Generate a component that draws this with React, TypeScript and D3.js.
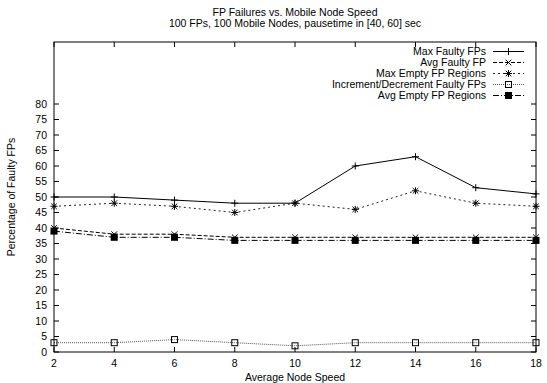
import React from "react";
import * as d3 from "d3";

// data
const speeds = [2, 4, 6, 8, 10, 12, 14, 16, 18];
const maxFaulty = [50, 50, 49, 48, 48, 60, 63, 53, 51];
const avgFaulty = [40, 38, 38, 37, 37, 37, 37, 37, 37];
const maxEmpty = [47, 48, 47, 45, 48, 46, 52, 48, 47];
const incDec = [3, 3, 4, 3, 2, 3, 3, 3, 3];
const avgEmpty = [39, 37, 37, 36, 36, 36, 36, 36, 36];
const yTicks = d3.range(0, 81, 5);
const xTicks = speeds;

const series = [
  { name: "Max Faulty FPs", values: maxFaulty, dash: "none", stroke: "#000", marker: "plus" },
  { name: "Avg Faulty FP", values: avgFaulty, dash: "4,2", stroke: "#000", marker: "cross" },
  { name: "Max Empty FP Regions", values: maxEmpty, dash: "2,3", stroke: "#222", marker: "star" },
  { name: "Increment/Decrement Faulty FPs", values: incDec, dash: "1,1", stroke: "#555", marker: "box" },
  { name: "Avg Empty FP Regions", values: avgEmpty, dash: "6,2,1,2", stroke: "#000", marker: "fbox" },
];

const W = 547,
  H = 383;
const margin = { top: 42, right: 11, bottom: 31, left: 54 };
const font = "'Liberation Sans', Arial, Helvetica, sans-serif";

const Marker = ({ type, x, y }: { type: string; x: number; y: number }) => {
  const s = 3.5;
  const plus = `M${x - s},${y}H${x + s}M${x},${y - s}V${y + s}`;
  const cross = `M${x - s * 0.8},${y - s * 0.8}L${x + s * 0.8},${y + s * 0.8}M${x - s * 0.8},${y + s * 0.8}L${x + s * 0.8},${y - s * 0.8}`;
  if (type === "plus") return <path d={plus} stroke="#000" strokeWidth={1} />;
  if (type === "cross") return <path d={cross} stroke="#000" strokeWidth={1} />;
  if (type === "star") return <path d={plus + cross} stroke="#000" strokeWidth={1} />;
  if (type === "box")
    return <rect x={x - 3} y={y - 3} width={6} height={6} fill="none" stroke="#000" strokeWidth={1} />;
  return <rect x={x - 3.5} y={y - 3.5} width={7} height={7} fill="#000" />;
};

const App = () => {
  const x = d3
    .scaleLinear()
    .domain([2, 18])
    .range([margin.left, W - margin.right]);
  const y = d3
    .scaleLinear()
    .domain([0, 100])
    .range([H - margin.bottom, margin.top]);

  const line = d3
    .line<number>()
    .x((d, i) => x(speeds[i]))
    .y((d) => y(d));

  const x0 = x.range()[0],
    x1 = x.range()[1],
    y0 = y.range()[0],
    y1 = y.range()[1];
  const tick = 5;

  return (
    <svg
      width={W}
      height={H}
      style={{ position: "absolute", left: 0, top: 0, background: "#fff" }}
      fontFamily={font}
      fontSize={10.5}
    >
      <text x={(x0 + x1) / 2} y={16} textAnchor="middle">
        FP Failures vs. Mobile Node Speed
      </text>
      <text x={(x0 + x1) / 2} y={27} textAnchor="middle">
        100 FPs, 100 Mobile Nodes, pausetime in [40, 60] sec
      </text>

      {/* y ticks, mirrored */}
      {yTicks.map((t) => (
        <g key={"y" + t}>
          <line x1={x0} x2={x0 + tick} y1={y(t)} y2={y(t)} stroke="#000" />
          <line x1={x1} x2={x1 - tick} y1={y(t)} y2={y(t)} stroke="#000" />
          <text x={x0 - 7} y={y(t) + 3.5} textAnchor="end">
            {t}
          </text>
        </g>
      ))}
      {/* x ticks, mirrored */}
      {xTicks.map((t) => (
        <g key={"x" + t}>
          <line x1={x(t)} x2={x(t)} y1={y0} y2={y0 - tick} stroke="#000" />
          <line x1={x(t)} x2={x(t)} y1={y1} y2={y1 + tick} stroke="#000" />
          <text x={x(t)} y={y0 + 15} textAnchor="middle">
            {t}
          </text>
        </g>
      ))}

      <text x={(x0 + x1) / 2} y={H - 2} textAnchor="middle">
        Average Node Speed
      </text>
      <text
        transform={`translate(15,${(y0 + y1) / 2}) rotate(-90)`}
        textAnchor="middle"
      >
        Percentage of Faulty FPs
      </text>

      {series.map((s) => (
        <g key={s.name}>
          <path
            d={line(s.values) || ""}
            fill="none"
            stroke={s.stroke}
            strokeWidth={1}
            strokeDasharray={s.dash}
          />
          {s.values.map((v, i) => (
            <Marker key={i} type={s.marker} x={x(speeds[i])} y={y(v)} />
          ))}
        </g>
      ))}

      {/* legend */}
      {series.map((s, i) => {
        const ly = 51.5 + i * 11;
        return (
          <g key={"lg" + s.name}>
            <text x={486} y={ly + 3.7} textAnchor="end">
              {s.name}
            </text>
            <line
              x1={493}
              x2={524}
              y1={ly}
              y2={ly}
              stroke={s.stroke}
              strokeDasharray={s.dash}
            />
            <Marker type={s.marker} x={508.5} y={ly} />
          </g>
        );
      })}

      <rect
        x={x0}
        y={y1}
        width={x1 - x0}
        height={y0 - y1}
        fill="none"
        stroke="#000"
        strokeWidth={1}
      />
    </svg>
  );
};

export default App;
